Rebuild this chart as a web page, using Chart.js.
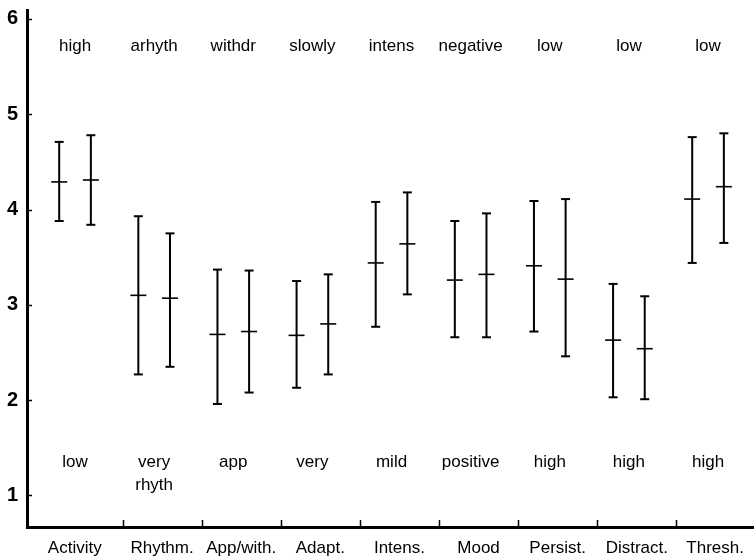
<!DOCTYPE html>
<html>
<head>
<meta charset="utf-8">
<script src="https://cdn.jsdelivr.net/npm/chart.js@4.4.0/dist/chart.umd.min.js"></script>
<style>
body { margin: 0; background: #fff; }
#wrap { width: 754px; height: 559px; }
</style>
</head>
<body>
<div id="wrap"><canvas id="tempChart" width="754" height="559"></canvas></div>
<script>
const categories = ['Activity', 'Rhythm.', 'App/with.', 'Adapt.', 'Intens.', 'Mood', 'Persist.', 'Distract.', 'Thresh.'];
const topLabels = ['high', 'arhyth', 'withdr', 'slowly', 'intens', 'negative', 'low', 'low', 'low'];
const bottomLabels = ['low', 'very\nrhyth', 'app', 'very', 'mild', 'positive', 'high', 'high', 'high'];
const yTicks = [1, 2, 3, 4, 5, 6];

// left bar of each pair
const mean1 = [4.29, 3.10, 2.69, 2.68, 3.44, 3.26, 3.41, 2.63, 4.11];
const high1 = [4.71, 3.93, 3.37, 3.25, 4.08, 3.88, 4.09, 3.22, 4.76];
const low1  = [3.88, 2.27, 1.96, 2.13, 2.77, 2.66, 2.72, 2.03, 3.44];
// right bar of each pair
const mean2 = [4.31, 3.07, 2.72, 2.80, 3.64, 3.32, 3.27, 2.54, 4.24];
const high2 = [4.78, 3.75, 3.36, 3.32, 4.18, 3.96, 4.11, 3.09, 4.80];
const low2  = [3.84, 2.35, 2.08, 2.27, 3.11, 2.66, 2.46, 2.01, 3.65];

const shift = 0.2;
const font = "'Liberation Sans', Arial, sans-serif";

// whisker segments, broken by null points
const whiskers = [];
const means = [];
categories.forEach((c, i) => {
    const x1 = i + 1 - shift, x2 = i + 1 + shift;
    whiskers.push({x: x1, y: low1[i]}, {x: x1, y: high1[i]}, {x: x1, y: null});
    whiskers.push({x: x2, y: low2[i]}, {x: x2, y: high2[i]}, {x: x2, y: null});
    means.push({x: x1, y: mean1[i]}, {x: x2, y: mean2[i]});
});

// label of category i sits in the middle of its cell between separators
const sepPos = categories.slice(0, -1).map((c, i) => i + 1.6);
const xMin = 0.393, xMax = 9.581;
const labelPos = categories.map((c, i) => {
    const left = i === 0 ? xMin : sepPos[i - 1];
    const right = i === categories.length - 1 ? xMax : sepPos[i];
    return (left + right) / 2;
});

const extras = {
    id: 'extras',
    afterDraw(chart) {
        const {ctx, scales: {x, y}, chartArea} = chart;
        ctx.save();
        ctx.strokeStyle = '#000';
        ctx.lineWidth = 1.5;
        // inward ticks on the y axis
        yTicks.forEach(v => {
            const py = Math.round(y.getPixelForValue(v)) + 0.5;
            ctx.beginPath();
            ctx.moveTo(chartArea.left, py);
            ctx.lineTo(chartArea.left + 5, py);
            ctx.stroke();
        });
        // separator ticks on the x axis
        sepPos.forEach(v => {
            const px = Math.round(x.getPixelForValue(v)) + 0.5;
            ctx.beginPath();
            ctx.moveTo(px, chartArea.bottom);
            ctx.lineTo(px, chartArea.bottom - 7);
            ctx.stroke();
        });
        // level labels at top and bottom
        ctx.fillStyle = '#000';
        ctx.font = '17px ' + font;
        ctx.textAlign = 'center';
        ctx.textBaseline = 'middle';
        const yTop = y.getPixelForValue(5.71);
        const yBot = y.getPixelForValue(1.35);
        categories.forEach((c, i) => {
            const px = x.getPixelForValue(i + 1);
            ctx.fillText(topLabels[i], px, yTop);
            bottomLabels[i].split('\n').forEach((line, k) => {
                ctx.fillText(line, px, yBot + k * 23);
            });
        });
        ctx.restore();
    }
};

const ctx = document.getElementById('tempChart').getContext('2d');
const tempChart = new Chart(ctx, {
    type: 'scatter',
    data: {
        datasets: [{
            label: 'range',
            data: whiskers,
            showLine: true,
            spanGaps: false,
            borderColor: '#000',
            borderWidth: 2,
            pointStyle: 'line',
            pointRadius: 4.5,
            pointBorderWidth: 2,
            pointBorderColor: '#000'
        }, {
            label: 'mean',
            data: means,
            pointStyle: 'line',
            pointRadius: 8,
            pointBorderWidth: 1.6,
            pointBorderColor: '#000'
        }]
    },
    options: {
        responsive: false,
        animation: false,
        events: [],
        layout: { autoPadding: false, padding: { top: 10, right: 0, left: 0, bottom: 0 } },
        plugins: { legend: { display: false }, tooltip: { enabled: false } },
        scales: {
            x: {
                type: 'linear',
                min: xMin,
                max: xMax,
                afterBuildTicks: s => { s.ticks = labelPos.map(v => ({value: v})); },
                afterFit: s => { s.height = 32; s.paddingLeft = 0; s.paddingRight = 0; },
                ticks: {
                    autoSkip: false,
                    maxRotation: 0,
                    padding: 11,
                    color: '#000',
                    font: { family: font, size: 17 },
                    callback: (v, i) => categories[i]
                },
                grid: { display: false, drawTicks: false },
                border: { display: true, color: '#000', width: 3 }
            },
            y: {
                min: 0.669,
                max: 6.094,
                afterBuildTicks: s => { s.ticks = yTicks.map(v => ({value: v})); },
                afterFit: s => { s.width = 27; s.paddingTop = 0; s.paddingBottom = 0; },
                ticks: {
                    padding: 9,
                    color: '#000',
                    font: { family: "'Liberation Sans Narrow', 'Liberation Sans', sans-serif", size: 20, weight: 'bold' }
                },
                grid: { display: false, drawTicks: false },
                border: { display: true, color: '#000', width: 3 }
            }
        }
    },
    plugins: [extras]
});
</script>
</body>
</html>
